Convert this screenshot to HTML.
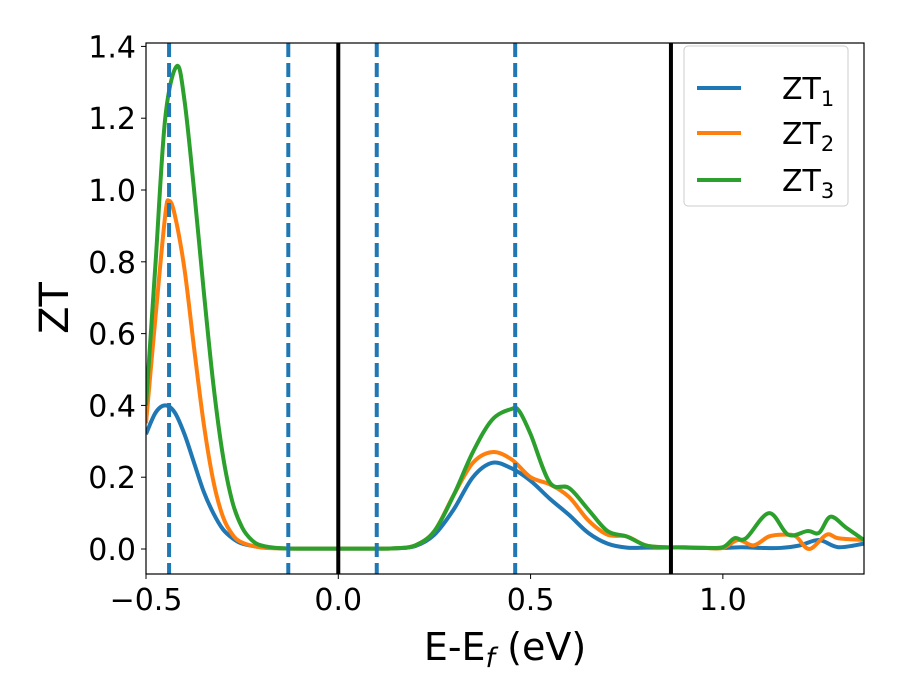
<!DOCTYPE html>
<html><head><meta charset="utf-8"><style>
body{margin:0;background:#fff}
svg{display:block;font-family:"DejaVu Sans","Liberation Sans",sans-serif}
</style></head><body>
<svg id="chart" width="900" height="700">
<rect width="900" height="700" fill="#fff"/>
<g id="plot"></g>
</svg>
<script>
const xTicks=[-0.5,0.0,0.5,1.0];
const xTickLabels=["\u22120.5","0.0","0.5","1.0"];
const yTicks=[0,0.2,0.4,0.6,0.8,1.0,1.2,1.4];
const yTickLabels=["0.0","0.2","0.4","0.6","0.8","1.0","1.2","1.4"];
const dashedLines=[-0.44,-0.13,0.1,0.46];
const solidLines=[0,0.865];
const zt1X=[-0.5,-0.475,-0.45,-0.425,-0.4,-0.375,-0.35,-0.325,-0.3,-0.275,-0.25,-0.2,-0.15,-0.1,0,0.1,0.15,0.2,0.25,0.3,0.35,0.4,0.45,0.5,0.55,0.6,0.65,0.7,0.75,0.8,0.85,0.9,0.95,1.0,1.05,1.1,1.15,1.2,1.25,1.3,1.367];
const zt1Y=[0.32,0.38,0.40,0.38,0.32,0.24,0.16,0.10,0.055,0.03,0.015,0.005,0.002,0.001,0.001,0.001,0.002,0.008,0.04,0.11,0.2,0.24,0.225,0.19,0.14,0.095,0.045,0.015,0.004,0.004,0.004,0.004,0.003,0.003,0.005,0.003,0.003,0.01,0.025,0.005,0.015];
const zt2X=[-0.5,-0.475,-0.45,-0.44,-0.425,-0.4,-0.375,-0.35,-0.325,-0.3,-0.275,-0.25,-0.2,-0.15,-0.1,0,0.1,0.15,0.2,0.25,0.3,0.35,0.4,0.45,0.5,0.55,0.6,0.65,0.7,0.75,0.8,0.85,0.9,0.95,1.0,1.04,1.08,1.12,1.16,1.19,1.225,1.27,1.3,1.367];
const zt2Y=[0.35,0.65,0.93,0.97,0.93,0.78,0.56,0.35,0.19,0.09,0.04,0.018,0.004,0.002,0.001,0.001,0.001,0.002,0.01,0.05,0.15,0.24,0.27,0.25,0.2,0.18,0.145,0.08,0.04,0.035,0.01,0.005,0.004,0.003,0.003,0.025,0.01,0.035,0.04,0.035,0.0,0.04,0.03,0.025];
const zt3X=[-0.5,-0.475,-0.45,-0.42,-0.4,-0.375,-0.35,-0.325,-0.3,-0.275,-0.25,-0.225,-0.2,-0.15,-0.1,0,0.1,0.15,0.2,0.25,0.3,0.35,0.4,0.45,0.47,0.5,0.55,0.6,0.65,0.7,0.75,0.8,0.85,0.9,0.95,1.0,1.03,1.06,1.12,1.17,1.22,1.25,1.28,1.32,1.367];
const zt3Y=[0.40,0.80,1.2,1.345,1.25,1.0,0.72,0.46,0.26,0.13,0.06,0.025,0.01,0.002,0.001,0.001,0.001,0.002,0.01,0.05,0.15,0.27,0.36,0.39,0.385,0.32,0.185,0.17,0.11,0.05,0.035,0.01,0.005,0.005,0.003,0.005,0.03,0.03,0.1,0.04,0.05,0.045,0.09,0.06,0.025];
const L=146,R=864,T=43,B=574,XMIN=-0.5,XMAX=1.367,YMIN=-0.0696,YMAX=1.4095;
const sx=v=>L+(v-XMIN)/(XMAX-XMIN)*(R-L);
const sy=v=>B-(v-YMIN)/(YMAX-YMIN)*(B-T);
const NS="http://www.w3.org/2000/svg";
const g=document.getElementById('plot');
function mk(tag,attrs,parent){const e=document.createElementNS(NS,tag);for(const k in attrs)e.setAttribute(k,attrs[k]);(parent||g).appendChild(e);return e;}
const clip=mk('clipPath',{id:'cp'});mk('rect',{x:L,y:T,width:R-L,height:B-T},clip);
const inner=mk('g',{'clip-path':'url(#cp)'});
function smooth(xs,ys){const p=xs.map((x,i)=>[sx(x),sy(ys[i])]);let d=`M${p[0][0]},${p[0][1]}`;
for(let i=0;i<p.length-1;i++){const p0=p[Math.max(0,i-1)],p1=p[i],p2=p[i+1],p3=p[Math.min(p.length-1,i+2)];
d+=` C${p1[0]+(p2[0]-p0[0])/6},${p1[1]+(p2[1]-p0[1])/6} ${p2[0]-(p3[0]-p1[0])/6},${p2[1]-(p3[1]-p1[1])/6} ${p2[0]},${p2[1]}`;}return d;}
const series=[[zt1X,zt1Y,'#1f77b4','zt1-line'],[zt2X,zt2Y,'#ff7f0e','zt2-line'],[zt3X,zt3Y,'#2ca02c','zt3-line']];
series.forEach(s=>{const e=mk('path',{d:smooth(s[0],s[1]),fill:'none',stroke:s[2],'stroke-width':4},inner);

});
dashedLines.forEach(v=>{const e=mk('line',{x1:sx(v),x2:sx(v),y1:T,y2:B,stroke:'#1f77b4','stroke-width':4,'stroke-dasharray':'14 6'},inner);

});
solidLines.forEach(v=>{const e=mk('line',{x1:sx(v),x2:sx(v),y1:T,y2:B,stroke:'#000','stroke-width':4},inner);

});
const fr=mk('rect',{x:L,y:T,width:R-L,height:B-T,fill:'none',stroke:'#000','stroke-width':1.2});


xTicks.forEach((v,i)=>{mk('line',{x1:sx(v),x2:sx(v),y1:B,y2:B+5,stroke:'#000'});
const t=mk('text',{x:sx(v),y:B+36,'text-anchor':'middle','font-size':30});t.textContent=xTickLabels[i];

});
yTicks.forEach((v,i)=>{mk('line',{x1:L-5,x2:L,y1:sy(v),y2:sy(v),stroke:'#000'});
const t=mk('text',{x:L-10,y:sy(v)+11,'text-anchor':'end','font-size':30});t.textContent=yTickLabels[i];

});
const s=document.getElementById('chart');
const xt=document.createElementNS(NS,'text');xt.setAttribute('x',505);xt.setAttribute('y',660);xt.setAttribute('text-anchor','middle');xt.setAttribute('font-size',38);
xt.innerHTML='E-E<tspan font-style="italic" font-size="27" dy="7">f</tspan><tspan dy="-7"> (eV)</tspan>';


s.appendChild(xt);
const yt=document.createElementNS(NS,'text');yt.setAttribute('transform','translate(68,308) rotate(-90)');yt.setAttribute('text-anchor','middle');yt.setAttribute('font-size',40);yt.textContent='ZT';


s.appendChild(yt);
const lg=document.createElementNS(NS,'g');


s.appendChild(lg);
const br=document.createElementNS(NS,'rect');[['x',684],['y',46],['width',164],['height',160],['rx',4],['fill','#fff'],['stroke','#ccc']].forEach(a=>br.setAttribute(a[0],a[1]));lg.appendChild(br);
[['#1f77b4','1',88],['#ff7f0e','2',133],['#2ca02c','3',180]].forEach(e=>{
const ln=document.createElementNS(NS,'line');[['x1',697],['x2',741],['y1',e[2]],['y2',e[2]],['stroke',e[0]],['stroke-width',4]].forEach(a=>ln.setAttribute(a[0],a[1]));lg.appendChild(ln);
const tx=document.createElementNS(NS,'text');tx.setAttribute('x',782);tx.setAttribute('y',e[2]+11);tx.setAttribute('font-size',30);
tx.innerHTML='ZT<tspan font-size="21" dy="7">'+e[1]+'</tspan>';


lg.appendChild(tx);});
</script>
</body></html>
